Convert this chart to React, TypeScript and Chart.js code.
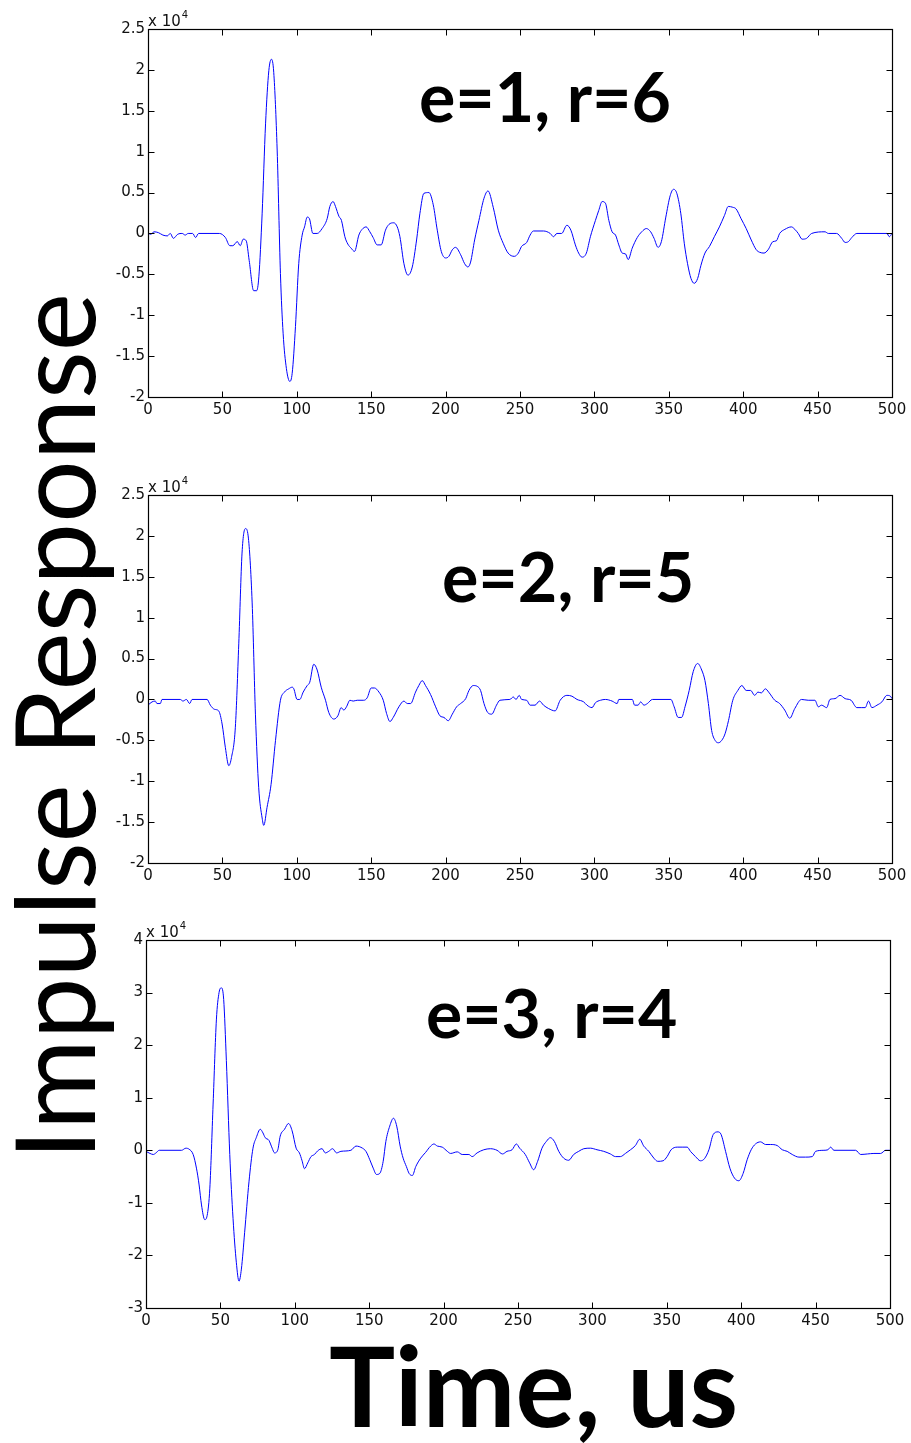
import React, { useEffect, useRef, useMemo } from "react";
import { Chart, registerables } from "chart.js";

Chart.register(...registerables);

// ---------- data (values in units of 10^4) ----------
const t1 = [0, 2, 4, 7, 10, 13, 15, 17, 20, 23, 25, 27, 30, 32, 34, 48, 52, 55, 57, 60, 62, 64, 66, 68, 71, 73, 74.5, 76.7, 79, 81.2, 83, 84.5, 86.8, 89, 90.8, 93, 95.3, 96.9, 99.1, 101.3, 103.6, 105.2, 107, 108.5, 110.8, 113.7, 117, 120.4, 122.2, 124.4, 126, 128.3, 130, 132.3, 134.3, 136.5, 138.8, 141.7, 143.9, 146.6, 149.1, 151.3, 154, 156.7, 159.6, 161.9, 165.2, 167.5, 169.3, 172, 174.7, 177.6, 180.5, 182.7, 185.4, 188.8, 191.7, 194.4, 197.1, 200, 202.2, 204.5, 206.7, 210.1, 212.8, 215, 216.8, 219.5, 222.4, 225.8, 228.5, 232, 235.4, 238.7, 242, 246.2, 248.9, 251, 254.5, 256.8, 259, 265.8, 270.3, 272.5, 274.8, 278, 281.5, 284.2, 287.2, 289.4, 291.7, 294.6, 297.3, 300.7, 302.9, 305.2, 307.4, 309.7, 311.9, 314.2, 316.4, 318.7, 320.9, 322.7, 325.4, 328.8, 331.8, 334.9, 337.8, 340.1, 342.8, 345, 348, 350.9, 353.2, 355.4, 358.1, 360.4, 362.6, 364.9, 367.1, 369.4, 371.6, 374.3, 377.3, 380.6, 384, 387.4, 390, 393, 395.2, 398.6, 402, 405.4, 408.8, 411, 414, 416.7, 420, 422.3, 424.5, 428, 432.4, 434.7, 437, 439.6, 442.6, 446, 455, 457.2, 462.8, 466.2, 468.5, 470.7, 473, 476.4, 496.6, 498.2, 500];
const v1 = [0, -0.01, 0.02, 0.01, -0.02, -0.03, 0, -0.06, -0.01, 0, -0.02, 0, 0, -0.05, 0, 0, -0.05, -0.15, -0.15, -0.1, -0.15, -0.07, -0.09, -0.33, -0.7, -0.7, -0.53, 0.24, 1.34, 1.99, 2.13, 1.97, 1.02, -0.49, -1.22, -1.65, -1.81, -1.71, -1.14, -0.37, -0.02, 0.08, 0.2, 0.18, 0, 0, 0.06, 0.18, 0.33, 0.39, 0.33, 0.21, 0.16, -0.04, -0.13, -0.18, -0.22, -0.02, 0.05, 0.08, 0.02, -0.05, -0.14, -0.14, 0.04, 0.11, 0.13, 0.08, -0.04, -0.37, -0.51, -0.41, -0.08, 0.24, 0.49, 0.5, 0.35, 0.04, -0.22, -0.3, -0.28, -0.2, -0.17, -0.26, -0.37, -0.41, -0.35, -0.08, 0.16, 0.43, 0.52, 0.32, 0.04, -0.12, -0.24, -0.28, -0.24, -0.16, -0.11, -0.02, 0.03, 0.03, 0, -0.04, 0, 0, 0.1, 0.04, -0.14, -0.24, -0.29, -0.24, -0.04, 0.16, 0.28, 0.39, 0.37, 0.16, 0.02, -0.02, -0.14, -0.24, -0.25, -0.32, -0.18, -0.05, 0.02, 0.06, 0.02, -0.06, -0.17, -0.1, 0.2, 0.46, 0.54, 0.49, 0.24, -0.12, -0.37, -0.55, -0.61, -0.55, -0.39, -0.24, -0.16, -0.04, 0.08, 0.22, 0.33, 0.32, 0.3, 0.18, 0.06, -0.08, -0.2, -0.23, -0.24, -0.2, -0.1, -0.09, 0, 0.05, 0.08, 0.05, 0, -0.07, -0.06, 0, 0.02, 0, 0, -0.06, -0.11, -0.1, -0.05, 0, 0, -0.04, 0];

const t2 = [0, 2.7, 4.9, 6, 8.3, 9.4, 21.7, 23.5, 25.8, 28, 29.6, 39.7, 41.9, 44.6, 47.5, 49.8, 52, 54.3, 56.1, 58.7, 61, 63.2, 65.5, 67.3, 70, 72.2, 74.4, 76.7, 77.8, 80, 82.7, 85.7, 89, 91.7, 94.6, 96.9, 98, 100.2, 102, 104.3, 107, 108.7, 111.4, 113.7, 116.4, 119.3, 121.5, 124.9, 127.6, 129.8, 131.6, 133.4, 135.7, 137.9, 140.6, 145, 147.3, 150, 152.2, 155.2, 158.1, 160.3, 162.6, 164.8, 168.6, 172, 174.2, 176.5, 179.8, 182, 184.3, 186.5, 189.9, 193.3, 196.2, 198.9, 201.8, 204.5, 207.4, 210.1, 213.5, 215.7, 218.6, 221.3, 223.5, 225.8, 228.3, 231, 234.2, 236.5, 243.2, 245.5, 247.3, 249.5, 251.1, 254.5, 256.8, 260.1, 263.1, 265.8, 269.1, 273.6, 277, 281.5, 284.9, 288.3, 292.8, 295, 298.4, 300.7, 304.1, 307.4, 311.9, 315.3, 316.4, 325.5, 327, 329.3, 331.1, 333.3, 335.6, 339, 351.4, 353.6, 356.3, 358.6, 360.9, 363.7, 366.4, 369.4, 372.1, 374.3, 376.6, 378.8, 381.1, 383.3, 385.6, 387.8, 390.1, 393, 396.4, 399.1, 402, 405, 407.7, 409.9, 412.2, 414.9, 417.1, 421.2, 424.5, 427.9, 431.3, 434.7, 439.2, 443.7, 448.2, 450.5, 452.7, 456.1, 458.3, 461.7, 465.1, 468.5, 472.5, 476.4, 479.7, 482, 484.2, 486.5, 489.9, 493.2, 496.6, 498.9, 500];
const v2 = [-0.07, -0.03, -0.02, -0.05, -0.05, 0, 0, -0.02, 0, -0.05, 0, 0, -0.07, -0.12, -0.14, -0.3, -0.59, -0.81, -0.71, -0.34, 0.68, 1.79, 2.09, 2.0, 1.18, -0.18, -1.08, -1.45, -1.54, -1.32, -1.04, -0.5, -0.01, 0.09, 0.13, 0.15, 0.13, 0, 0, 0.09, 0.17, 0.21, 0.43, 0.36, 0.15, -0.01, -0.16, -0.24, -0.2, -0.1, -0.13, -0.09, -0.01, -0.02, -0.01, -0.01, 0.02, 0.14, 0.14, 0.09, -0.01, -0.17, -0.27, -0.22, -0.09, -0.02, -0.05, -0.05, 0.09, 0.17, 0.23, 0.17, 0.06, -0.09, -0.2, -0.22, -0.26, -0.18, -0.09, -0.05, 0.01, 0.11, 0.17, 0.16, 0.11, -0.05, -0.16, -0.18, -0.07, -0.01, 0, 0.03, 0, 0.05, 0, -0.01, -0.07, -0.07, -0.02, -0.07, -0.11, -0.14, -0.01, 0.05, 0.04, 0, -0.03, -0.07, -0.1, -0.04, -0.01, 0, -0.02, -0.05, 0, 0, -0.07, -0.07, -0.03, -0.07, -0.05, 0, 0, -0.09, -0.22, -0.22, -0.09, 0.11, 0.34, 0.44, 0.36, 0.23, -0.05, -0.38, -0.5, -0.53, -0.5, -0.42, -0.26, -0.01, 0.11, 0.17, 0.11, 0.11, 0.05, 0.09, 0.08, 0.13, 0.09, -0.01, -0.05, -0.13, -0.23, -0.11, 0, -0.01, -0.01, -0.09, -0.07, -0.1, 0, 0.01, 0.05, 0.01, -0.01, -0.1, -0.1, -0.1, -0.02, -0.1, -0.07, -0.03, 0.05, 0.04, 0.01];

const t3 = [0, 2.7, 4.9, 6.7, 8.9, 23.9, 26.8, 29, 31.7, 33.9, 35.7, 37.3, 39.5, 41.1, 42.9, 45.1, 47.3, 49.1, 50.7, 52.2, 54, 56.3, 58.5, 60.7, 62.5, 64.1, 66.3, 69.2, 71.9, 74.1, 76.8, 78.6, 80.1, 82.6, 84.8, 86.4, 88.6, 90.2, 93.1, 95.8, 98.2, 100.9, 103.1, 104.9, 106.5, 108.7, 110.9, 113.2, 115.4, 118.3, 120.5, 122.8, 125.4, 128.1, 131, 137.7, 141.1, 145.5, 147.8, 150.4, 152.7, 154.9, 157.1, 159.4, 161.2, 163.8, 166.3, 168.5, 170.8, 172.8, 175, 176.8, 179, 181.3, 184.6, 187.9, 191.3, 193.5, 195.8, 199.1, 202.5, 204.7, 209.2, 212.5, 217, 219.2, 222.5, 227, 231.5, 235.9, 239.6, 242.6, 246, 248.9, 251.1, 254.9, 257.8, 260.5, 263.2, 266.1, 269.1, 271.7, 274.4, 277.4, 280.7, 284.1, 287.4, 290.8, 294.2, 298.7, 303.1, 307.6, 312.1, 315.5, 318.8, 322.2, 325.6, 328.9, 331.8, 334.5, 337.9, 341.3, 343.9, 347.5, 350.2, 352.9, 357, 360.3, 363.7, 365.9, 369.3, 372.6, 375.3, 378.3, 381.2, 384.4, 386.5, 389.5, 392.4, 395.5, 398.4, 401.3, 404, 406.7, 409.6, 413, 416.4, 419.7, 424.2, 427.6, 430.9, 434.3, 438.8, 443.3, 447.8, 450, 455.6, 458.3, 460.1, 462.3, 476.9, 480.3, 484.8, 489.2, 493.7, 497.1, 500];
const v3 = [-0.02, -0.06, -0.08, -0.05, 0, 0, 0.04, 0.02, -0.08, -0.34, -0.66, -1.04, -1.32, -1.24, -0.72, 0.88, 2.48, 3.0, 3.09, 2.87, 1.71, -0.08, -1.3, -2.13, -2.49, -2.26, -1.56, -0.6, 0.04, 0.24, 0.4, 0.33, 0.24, 0.19, 0.04, -0.05, 0.01, 0.27, 0.4, 0.51, 0.37, 0.04, -0.05, -0.2, -0.35, -0.24, -0.12, -0.08, -0.01, 0.03, -0.05, -0.02, 0.03, -0.05, -0.02, 0, 0.08, 0.04, -0.02, -0.18, -0.34, -0.46, -0.44, -0.21, 0.17, 0.46, 0.61, 0.46, 0.08, -0.15, -0.31, -0.44, -0.48, -0.31, -0.15, -0.04, 0.08, 0.12, 0.08, 0.06, -0.02, -0.06, -0.03, -0.08, -0.08, -0.12, -0.05, 0.01, 0.03, 0, -0.07, -0.02, 0.01, 0.12, 0.04, -0.08, -0.24, -0.37, -0.21, 0.04, 0.17, 0.24, 0.17, -0.02, -0.15, -0.19, -0.08, -0.02, 0.03, 0.04, 0.01, -0.02, -0.07, -0.12, -0.12, -0.06, 0.01, 0.09, 0.21, 0.08, -0.02, -0.15, -0.21, -0.2, -0.12, 0.01, 0.06, 0.06, 0.06, -0.02, -0.12, -0.2, -0.16, 0.01, 0.3, 0.35, 0.3, -0.02, -0.34, -0.53, -0.58, -0.44, -0.18, 0.01, 0.12, 0.16, 0.11, 0.11, 0.09, 0.01, -0.02, -0.08, -0.13, -0.13, -0.12, -0.02, 0, 0.01, 0.06, 0, 0, -0.08, -0.07, -0.06, -0.06, 0, 0];

const xTicks = [0, 50, 100, 150, 200, 250, 300, 350, 400, 450, 500];
const yTicks12 = [-2, -1.5, -1, -0.5, 0, 0.5, 1, 1.5, 2, 2.5];
const yTicks3 = [-3, -2, -1, 0, 1, 2, 3, 4];
const panelLabels = ["e=1, r=6", "e=2, r=5", "e=3, r=4"];
const yAxisTitle = "Impulse Response";
const xAxisTitle = "Time, us";
const exponentText = "x 10";
const exponentSup = "4";

const TICK_FONT = '"DejaVu Sans", sans-serif';

const framePlugin = {
  id: "frame",
  afterDraw(chart: any) {
    const { ctx, chartArea: a, scales } = chart;
    const xs = scales.x;
    const ys = scales.y;
    const L = Math.round(a.left) + 0.5;
    const R = Math.round(a.right) + 0.5;
    const T = Math.round(a.top) + 0.5;
    const B = Math.round(a.bottom) + 0.5;
    ctx.save();
    ctx.strokeStyle = "#000";
    ctx.lineWidth = 1.2;
    ctx.strokeRect(L, T, R - L, B - T);
    const len = 6;
    ctx.lineWidth = 1;
    ctx.beginPath();
    xs.ticks.forEach((tk: any) => {
      const px = Math.round(xs.getPixelForValue(tk.value)) + 0.5;
      ctx.moveTo(px, B);
      ctx.lineTo(px, B - len);
      ctx.moveTo(px, T);
      ctx.lineTo(px, T + len);
    });
    ys.ticks.forEach((tk: any) => {
      const py = Math.round(ys.getPixelForValue(tk.value)) + 0.5;
      ctx.moveTo(L, py);
      ctx.lineTo(L + len, py);
      ctx.moveTo(R, py);
      ctx.lineTo(R - len, py);
    });
    ctx.stroke();
    // exponent label
    ctx.fillStyle = "#111";
    ctx.textBaseline = "alphabetic";
    ctx.textAlign = "left";
    ctx.font = "15px " + TICK_FONT;
    const baseY = a.top - 3;
    ctx.fillText(exponentText, a.left, baseY);
    const w = ctx.measureText(exponentText).width;
    ctx.font = "10px " + TICK_FONT;
    ctx.fillText(exponentSup, a.left + w + 1, baseY - 8);
    ctx.restore();
  },
};

function Panel({ t, v, yTicks, left, top }: { t: number[]; v: number[]; yTicks: number[]; left: number; top: number }) {
  const ref = useRef<HTMLCanvasElement | null>(null);
  useEffect(() => {
    if (!ref.current) return;
    const pts = t.map((x, i) => ({ x, y: v[i] }));
    const chart = new Chart(ref.current, {
      type: "line",
      data: {
        datasets: [
          {
            data: pts,
            borderColor: "#0000ff",
            borderWidth: 1,
            pointRadius: 0,
            cubicInterpolationMode: "monotone",
            fill: false,
          },
        ],
      },
      options: {
        responsive: false,
        animation: false,
        devicePixelRatio: 1,
        layout: { padding: { top: 29, right: 19, bottom: 0, left: 0 } },
        plugins: { legend: { display: false }, tooltip: { enabled: false }, title: { display: false } },
        scales: {
          x: {
            type: "linear",
            min: xTicks[0],
            max: xTicks[xTicks.length - 1],
            grid: { display: false, drawTicks: false },
            border: { display: false },
            afterBuildTicks: (s: any) => {
              s.ticks = xTicks.map((value) => ({ value }));
            },
            afterFit: (s: any) => {
              s.height = 33;
            },
            ticks: {
              autoSkip: false,
              maxRotation: 0,
              padding: 4,
              color: "#111",
              font: { family: TICK_FONT, size: 15 },
              callback: (val: any) => String(val),
            },
          },
          y: {
            type: "linear",
            min: yTicks[0],
            max: yTicks[yTicks.length - 1],
            grid: { display: false, drawTicks: false },
            border: { display: false },
            afterBuildTicks: (s: any) => {
              s.ticks = yTicks.map((value) => ({ value }));
            },
            afterFit: (s: any) => {
              s.width = 48;
            },
            ticks: {
              autoSkip: false,
              padding: 3,
              color: "#111",
              font: { family: TICK_FONT, size: 15 },
              callback: (val: any) => String(val),
            },
          },
        },
      },
      plugins: [framePlugin],
    } as any);
    return () => chart.destroy();
  }, [t, v, yTicks]);
  return (
    <canvas
      ref={ref}
      width={811}
      height={430}
      style={{ position: "absolute", left, top, width: 811, height: 430 }}
    />
  );
}

function FitText({
  text,
  weight,
  family,
  inkLeft,
  baseline,
  inkWidth,
  rotated,
}: {
  text: string;
  weight: number;
  family: string;
  inkLeft: number;
  baseline: number;
  inkWidth: number;
  rotated?: boolean;
}) {
  const m = useMemo(() => {
    const c = document.createElement("canvas").getContext("2d")!;
    c.font = `${weight} 100px ${family}`;
    const mm = c.measureText(text);
    return {
      abl: mm.actualBoundingBoxLeft,
      abr: mm.actualBoundingBoxRight,
      asc: mm.fontBoundingBoxAscent || 95,
      desc: mm.fontBoundingBoxDescent || 25,
    };
  }, [text, weight, family]);
  const ink = m.abl + m.abr;
  const fs = (100 * inkWidth) / ink;
  const k = fs / 100;
  const baseOff = (fs - (m.asc + m.desc) * k) / 2 + m.asc * k;
  const common: React.CSSProperties = {
    position: "absolute",
    fontFamily: family,
    fontWeight: weight,
    fontSize: fs,
    lineHeight: `${fs}px`,
    whiteSpace: "nowrap",
    color: "#000",
    margin: 0,
    padding: 0,
  };
  if (rotated) {
    // inkLeft = bottom y where the text's ink starts, baseline = x of the baseline
    const Y = inkLeft - m.abl * k;
    const X = baseline - baseOff;
    return (
      <div style={{ ...common, left: X, top: Y, transformOrigin: "0 0", transform: "rotate(-90deg)" }}>{text}</div>
    );
  }
  return <div style={{ ...common, left: inkLeft + m.abl * k, top: baseline - baseOff }}>{text}</div>;
}

export default function App() {
  return (
    <div
      style={{
        position: "absolute",
        left: 0,
        top: 0,
        width: 911,
        height: 1443,
        background: "#fff",
        overflow: "hidden",
      }}
    >
      <Panel t={t1} v={v1} yTicks={yTicks12} left={100} top={0} />
      <Panel t={t2} v={v2} yTicks={yTicks12} left={100} top={466} />
      <Panel t={t3} v={v3} yTicks={yTicks3} left={98} top={911} />
      <FitText text={panelLabels[0]} weight={700} family="Lato" inkLeft={421} baseline={123} inkWidth={248} />
      <FitText text={panelLabels[1]} weight={700} family="Lato" inkLeft={444} baseline={603} inkWidth={247} />
      <FitText text={panelLabels[2]} weight={700} family="Lato" inkLeft={428} baseline={1038} inkWidth={248} />
      <FitText text={xAxisTitle} weight={700} family="Lato" inkLeft={330} baseline={1428} inkWidth={405} />
      <FitText text={yAxisTitle} weight={400} family="Lato" inkLeft={1150} baseline={95} inkWidth={853} rotated />
    </div>
  );
}
